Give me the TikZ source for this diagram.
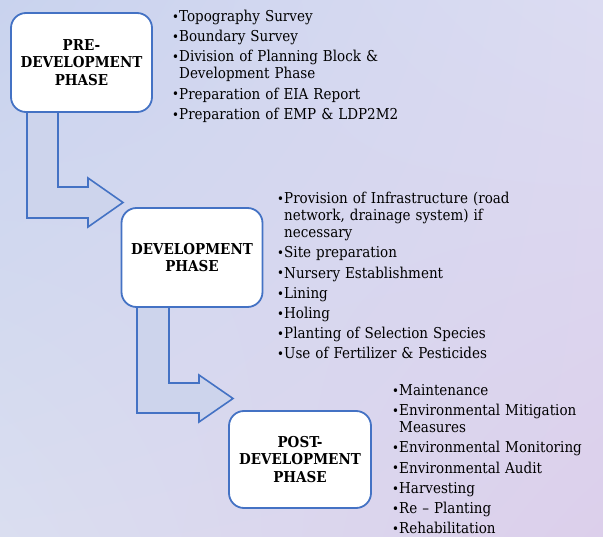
\documentclass[tikz,border=0pt]{standalone}
\usepackage{fontspec}
\setmainfont{DejaVu Serif Condensed}
\usetikzlibrary{shadings}
\definecolor{bord}{HTML}{4472C4}
\definecolor{arrowfill}{HTML}{CDD4EC}
\definecolor{bgA}{HTML}{C9D3EE}
\definecolor{bgB}{HTML}{DCDCF2}
\definecolor{bgC}{HTML}{DADEF0}
\definecolor{bgD}{HTML}{DCCFEB}
\newcommand\itm[1]{\par\hangindent=7pt\hangafter=1\noindent\makebox[7pt][l]{\fontsize{13}{13}\selectfont\raisebox{0.3pt}{•}}#1}
\begin{document}
\begin{tikzpicture}[x=1pt,y=-1pt,
  phase/.style={draw=bord, line width=1.8pt, fill=white, rounded corners=15pt,
    minimum width=141pt, minimum height=99pt, align=center, inner sep=0pt,
    font=\bfseries\fontsize{15}{17.5}\selectfont},
  blockarrow/.style={draw=bord, line width=1.6pt, fill=arrowfill, line join=miter},
  lst/.style={anchor=north west, inner sep=0pt, text width=#1, align=left,
    font=\fontsize{15}{17.2}\selectfont}]
\useasboundingbox (0,0) rectangle (603,537);
\shade[upper left=bgA, upper right=bgB, lower left=bgC, lower right=bgD] (0,0) rectangle (603,537);
% bent arrows
\draw[blockarrow] (27,111) -- (27,218) -- (88,218) -- (88,227) -- (123,202.5) -- (88,178) -- (88,187) -- (58,187) -- (58,111);
\draw[blockarrow] (137,307) -- (137,413) -- (199,413) -- (199,422) -- (233,398.5) -- (199,375) -- (199,383) -- (169,383) -- (169,307);
% phase boxes
\node[phase] (pre) at (81.5,62.5) {PRE-\\DEVELOPMENT\\PHASE};
\node[phase] (dev) at (192,257.5) {DEVELOPMENT\\PHASE};
\node[phase, minimum width=142pt, minimum height=97pt] (post) at (300,459.5) {POST-\\DEVELOPMENT\\PHASE};
% lists
\node[lst=320pt] (l1) at (172,1) {\parskip=3pt
\itm{Topography Survey}
\itm{Boundary Survey}
\itm{Division of Planning Block \&\newline Development Phase}
\itm{Preparation of EIA Report}
\itm{Preparation of EMP \& LDP2M2}};
\node[lst=320pt] (l2) at (277,183) {\parskip=3pt
\itm{Provision of Infrastructure (road\newline network, drainage system) if\newline necessary}
\itm{Site preparation}
\itm{Nursery Establishment}
\itm{Lining}
\itm{Holing}
\itm{Planting of Selection Species}
\itm{Use of Fertilizer \& Pesticides}};
\node[lst=320pt] (l3) at (392,375) {\parskip=3pt
\itm{Maintenance}
\itm{Environmental Mitigation\newline Measures}
\itm{Environmental Monitoring}
\itm{Environmental Audit}
\itm{Harvesting}
\itm{Re – Planting}
\itm{Rehabilitation}};
\end{tikzpicture}
\end{document}
